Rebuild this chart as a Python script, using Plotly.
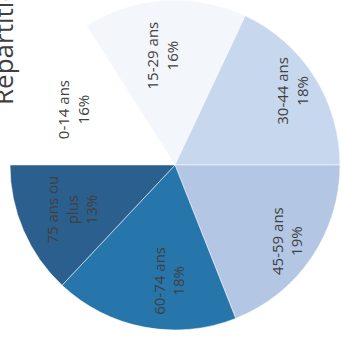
import math
import plotly.graph_objects as go

# Data
labels = ["0-14 ans", "15-29 ans", "30-44 ans", "45-59 ans", "60-74 ans", "75 ans ou plus"]
label_text = ["0-14 ans", "15-29 ans", "30-44 ans", "45-59 ans", "60-74 ans", "75 ans ou<br>plus"]
values = [16, 16, 18, 19, 18, 13]
colors = ["#ffffff", "#f3f6fb", "#c7d8ee", "#b3c7e5", "#2676ab", "#2b5f8e"]
title_text = "Répartition de la population par âge"

W, H = 342, 340
cx, cy, R = 175, 175, 165  # pixels, y from bottom
rotation = 270
label_r = [0.70, 0.67, 0.84, 0.82, 0.70, 0.68]
label_dth = [0, -3, 0, 0, -8, 0]

fig = go.Figure()
fig.add_trace(go.Pie(
    labels=labels, values=values, sort=False, direction="clockwise",
    rotation=rotation, textinfo="none", hoverinfo="label+percent",
    marker=dict(colors=colors, line=dict(color="#ffffff", width=0.5)),
    domain=dict(x=[(cx - R) / W, (cx + R) / W], y=[(cy - R) / H, (cy + R) / H]),
    showlegend=False,
))

total = sum(values)
cum = 0
annotations = []
for i, v in enumerate(values):
    mid = (cum + v / 2) / total
    cum += v
    th = math.radians(rotation + 360 * mid + label_dth[i])
    r = R * label_r[i]
    px = cx + r * math.sin(th)
    py = cy + r * math.cos(th)
    pct = round(100 * v / total)
    annotations.append(dict(
        x=px / W, y=py / H, xref="paper", yref="paper",
        text=f"{label_text[i]}<br>{pct}%", showarrow=False, textangle=-90,
        font=dict(family="Open Sans", size=15, color="#404040"),
        xanchor="center", yanchor="middle",
    ))

annotations.append(dict(
    x=-17 / W, y=(H - 107) / H, xref="paper", yref="paper",
    text=title_text, showarrow=False, textangle=-90,
    font=dict(family="Open Sans", size=26, color="#404040"),
    xanchor="left", yanchor="bottom",
))

fig.update_layout(
    width=W, height=H, margin=dict(l=0, r=0, t=0, b=0),
    paper_bgcolor="#ffffff", plot_bgcolor="#ffffff",
    annotations=annotations,
)
fig.write_html("out.html")
